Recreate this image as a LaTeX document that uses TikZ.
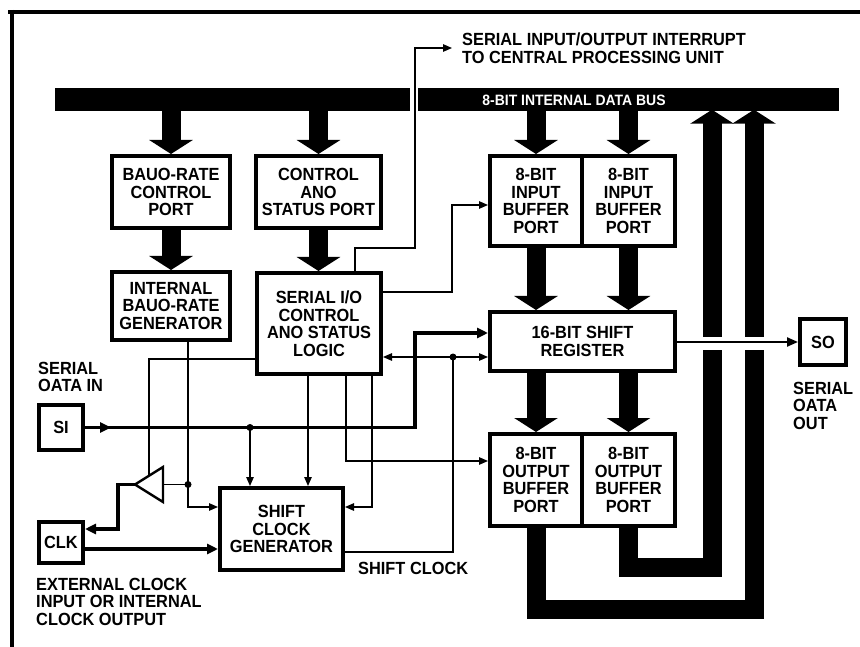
\documentclass[tikz,border=0pt]{standalone}
\usepackage{fontspec}
\setmainfont{Liberation Sans}[FakeStretch=0.93]
\usetikzlibrary{arrows.meta}
\newcommand\bxf{\fontsize{17.6}{17.5}\selectfont\bfseries}
\newcommand\busf{\fontsize{15}{15}\selectfont\bfseries}
\begin{document}
\begin{tikzpicture}[x=1pt,y=-1pt,
  blk/.style={draw, line width=4pt, inner sep=0pt, align=center, font=\bxf},
  busbar/.style={fill=black, inner sep=0pt, draw=none},
  fat/.style={line width=19pt, -{Triangle[length=14pt,width=43pt]}},
  thn/.style={line width=1.3pt},
  thnarr/.style={thn, -{Triangle[length=9pt,width=7.5pt]}},
  sig/.style={line width=3.3pt},
  sigarr/.style={sig, -{Triangle[length=11pt,width=10pt]}},
  medarr/.style={line width=2.2pt, -{Triangle[length=11pt,width=9pt]}},
  jdot/.style={circle, fill=black, inner sep=0pt, minimum size=7pt},
  lbl/.style={font=\bxf, align=left, inner sep=0pt}]
\useasboundingbox (0,0) rectangle (860,647);
% frame
\draw[line width=4pt] (8,12) -- (860,12);
\draw[line width=4.5pt] (12,10) -- (12,647);
% bus
\node[busbar, minimum width=355pt, minimum height=23pt] (busL) at (232.5,99.5) {};
\node[busbar, minimum width=421pt, minimum height=23pt] (busR) at (628.5,99.5) {};
\node[font=\busf, text=white, inner sep=0pt] (buslbl) at (574,100) {8-BIT INTERNAL DATA BUS};
% boxes
\node[blk, minimum width=118pt, minimum height=72pt] (bcp) at (171,192) {BAUO-RATE\\CONTROL\\PORT};
\node[blk, minimum width=125pt, minimum height=72pt] (csp) at (318.5,192) {CONTROL\\ANO\\STATUS PORT};
\node[blk, minimum width=118pt, minimum height=68pt] (ibg) at (171,306) {INTERNAL\\BAUO-RATE\\GENERATOR};
\node[blk, minimum width=124pt, minimum height=101pt] (sio) at (319,323.5) {SERIAL I/O\\CONTROL\\ANO STATUS\\LOGIC};
\node[blk, minimum width=92pt, minimum height=90pt] (ib1) at (536,201) {8-BIT\\INPUT\\BUFFER\\PORT};
\node[blk, minimum width=93pt, minimum height=90pt] (ib2) at (628.5,201) {8-BIT\\INPUT\\BUFFER\\PORT};
\node[blk, minimum width=185pt, minimum height=59pt] (sr) at (582.5,341.5) {16-BIT SHIFT\\REGISTER};
\node[blk, minimum width=92pt, minimum height=92pt] (ob1) at (536,480) {8-BIT\\OUTPUT\\BUFFER\\PORT};
\node[blk, minimum width=93pt, minimum height=92pt] (ob2) at (628.5,480) {8-BIT\\OUTPUT\\BUFFER\\PORT};
\node[blk, minimum width=46pt, minimum height=46pt] (so) at (823,342) {SO};
\node[blk, minimum width=44pt, minimum height=45pt] (si) at (61,427.5) {SI};
\node[blk, minimum width=44pt, minimum height=41pt] (clk) at (61,542.5) {CLK};
\node[blk, minimum width=123pt, minimum height=82pt] (scg) at (281.5,529) {SHIFT\\CLOCK\\GENERATOR};
% fat arrows
\draw[fat] (busL.south -| bcp.north) -- (bcp.north);
\draw[fat] (busL.south -| csp.north) -- (csp.north);
\draw[fat] (bcp.south) -- (ibg.north);
\draw[fat] (csp.south) -- (csp.south |- sio.north);
\draw[fat] (busR.south -| ib1.north) -- (ib1.north);
\draw[fat] (busR.south -| ib2.north) -- (ib2.north);
\draw[fat] (ib1.south) -- (ib1.south |- sr.north);
\draw[fat] (ib2.south) -- (ib2.south |- sr.north);
\draw[fat] (sr.south -| ob1.north) -- (ob1.north);
\draw[fat] (sr.south -| ob2.north) -- (ob2.north);
\draw[fat, line join=miter] (ob2.south) -- (ob2.south |- 0,567) -| ([yshift=1.5pt]busR.south -| 712,0);
\draw[fat, line join=miter] (ob1.south) -- (ob1.south |- 0,609) -| ([yshift=1.5pt]busR.south -| 754,0);
\fill[white] (698,336.5) rectangle (768,350);
\draw[medarr] (sr.east |- so.west) -- (so.west);
% interrupt
\coordinate (intr) at (452,48);
\draw[thnarr] (sio.north -| 355,0) -- (355,248) -- (415,248) -- (415,48) -- (intr);
\node[lbl, anchor=north west] (intrlbl) at (462,33) {SERIAL INPUT/OUTPUT INTERRUPT\\TO CENTRAL PROCESSING UNIT};
% control lines
\draw[thnarr] (sio.east |- 0,292) -| (452,205) -- (ib1.west |- 0,205);
\draw[thn, {Triangle[length=9pt,width=7.5pt]}-{Triangle[length=9pt,width=7.5pt]}] (sio.east |- 0,357) -- (sr.west |- 0,357);
\node[jdot] (d3) at (453,357) {};
\draw[thn] (scg.east |- 0,552) -| (d3.center);
\node[lbl, anchor=north west] (sclbl) at (358,562) {SHIFT CLOCK};
% serial data in
\draw[sigarr] (si.east) -- (111,427.5);
\draw[sigarr] (si.east) -- (415,427.5) |- (sr.west |- 0,333);
\node[jdot] (d1) at (250,427.5) {};
\draw[thnarr] (d1.center) -- (scg.north -| d1.center);
\draw[thnarr] (sio.south -| 308,0) -- (scg.north -| 308,0);
\draw[thnarr] (sio.south -| 346,0) |- (ob1.west |- 0,461);
\draw[thnarr] (sio.south -| 372,0) |- (scg.east |- 0,507);
% buffer triangle
\coordinate (bufA) at (135,484.5);
\coordinate (bufB) at (163,484.5);
\coordinate (bufT) at (149,476);
\draw[line width=2.4pt, line join=miter] (bufA) -- (163,467) -- (163,502) -- cycle;
\draw[thn] (sio.west |- 0,359) -| (bufT);
\draw[thnarr] (ibg.south -| 188,0) |- (scg.west |- 0,507);
\node[jdot] (d2) at (188,484.5) {};
\draw[thn] (d2.center) -- (bufB);
\draw[sigarr] (bufA) -- (118,484.5) |- (clk.east |- 0,529);
\draw[sigarr] (clk.east |- 0,549) -- (scg.west |- 0,549);
% labels
\node[lbl, anchor=north west] (silbl) at (38,362) {SERIAL\\OATA IN};
\node[lbl, anchor=north west] (clklbl) at (36,578) {EXTERNAL CLOCK\\INPUT OR INTERNAL\\CLOCK OUTPUT};
\node[lbl, anchor=north west] (solbl) at (793,382) {SERIAL\\OATA\\OUT};
\end{tikzpicture}
\end{document}
